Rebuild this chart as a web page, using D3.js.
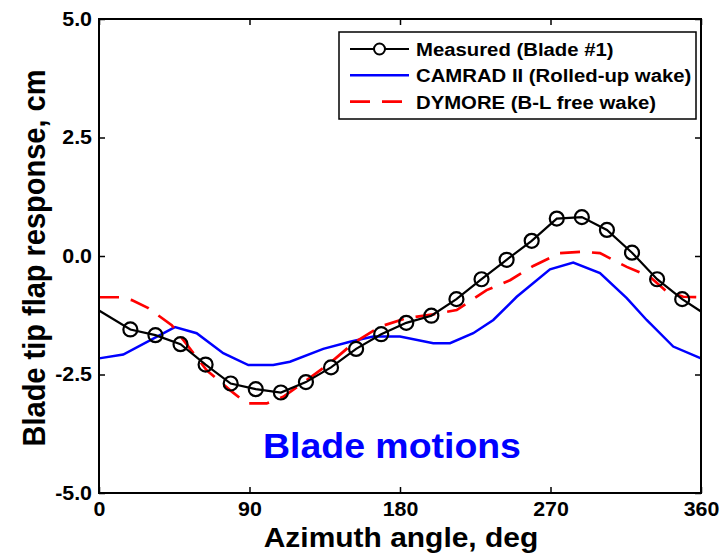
<!DOCTYPE html>
<html>
<head>
<meta charset="utf-8">
<script src="https://cdn.jsdelivr.net/npm/d3@7"></script>
<style>
  body { margin: 0; background: #fff; }
  svg { display: block; font-family: "Liberation Sans", Arial, sans-serif; font-weight: bold; }
</style>
</head>
<body>
<svg id="chart" width="720" height="555"></svg>
<script>
// measured (blade #1), circles
var measAz  = [0, 18.75, 33.75, 48.75, 63.75, 78.75, 93.75, 108.75, 123.75, 138.75, 153.75, 168.75, 183.75,
               198.75, 213.75, 228.75, 243.75, 258.75, 273.75, 288.75, 303.75, 318.75, 333.75, 348.75, 360];
var measVal = [-1.15, -1.55, -1.67, -1.86, -2.29, -2.69, -2.81, -2.88, -2.66, -2.35, -1.96, -1.65, -1.41,
               -1.26, -0.91, -0.49, -0.08, 0.32, 0.79, 0.82, 0.55, 0.07, -0.49, -0.91, -1.17];

// CAMRAD II (rolled-up wake)
var camAz  = [0, 14.5, 45.4, 58.4, 74.3, 89.3, 104.2, 114.2, 134.1, 150.1, 164, 180, 199.9, 209.9,
              223.8, 235.8, 249.8, 269.7, 283.6, 299.6, 315.6, 327.5, 343.4, 360];
var camVal = [-2.16, -2.08, -1.50, -1.63, -2.05, -2.30, -2.30, -2.23, -1.96, -1.81, -1.70, -1.70, -1.84, -1.84,
              -1.63, -1.35, -0.86, -0.28, -0.14, -0.36, -0.89, -1.35, -1.91, -2.16];

// DYMORE (B-L free wake)
var dymAz  = [0, 12.6, 19.6, 29.5, 43.5, 50.4, 64.4, 78.3, 88.3, 100.3, 110.2, 124.2, 138.1, 152.1, 168,
              184, 199.9, 213.9, 231.8, 245.8, 259.7, 275.7, 289.6, 299.6, 315.6, 329.5, 339.5, 349.4, 360];
var dymVal = [-0.87, -0.87, -0.93, -1.10, -1.46, -1.77, -2.41, -2.83, -3.11, -3.11, -2.97, -2.62, -2.26, -1.84, -1.49,
              -1.31, -1.23, -1.14, -0.72, -0.51, -0.21, 0.06, 0.09, 0.06, -0.23, -0.44, -0.75, -0.86, -0.87];

var xTicks = [0, 90, 180, 270, 360];
var yTicks = [-5.0, -2.5, 0.0, 2.5, 5.0];

var legendItems = [
  {label: "Measured (Blade #1)", color: "black", dash: null, marker: true, width: 2.2},
  {label: "CAMRAD II (Rolled-up wake)", color: "#0000ff", dash: null, marker: false, width: 2.5},
  {label: "DYMORE (B-L free wake)", color: "#ff0000", dash: "20,12", marker: false, width: 2.7}
];

var svg = d3.select("#chart");
var L = 99, R = 701, T = 19, B = 493;
var SX = 1.07; // the original lettering is a bit wider than Liberation Sans

var x = d3.scaleLinear().domain([0, 360]).range([L, R]);
var y = d3.scaleLinear().domain([-5, 5]).range([B, T]);

function zip(a, b) { return a.map(function(v, i) { return [v, b[i]]; }); }

// stretch a text horizontally about its own anchor
function widen(sel) {
  sel.each(function() {
    var t = d3.select(this);
    var tx = +t.attr("x") || 0, ty = +t.attr("y") || 0;
    t.attr("transform", "translate(" + tx + "," + ty + ") scale(" + SX + ",1) translate(" + (-tx) + "," + (-ty) + ")");
  });
}

var line = d3.line().x(function(d) { return x(d[0]); }).y(function(d) { return y(d[1]); });

// ticks, inward on all four sides
var tickLen = 6;
var fmtY = function(d) { return d3.format(".1f")(d).replace("\u2212", "-"); };

svg.append("g").attr("class", "xaxis").attr("transform", "translate(0," + B + ")")
  .call(d3.axisBottom(x).tickValues(xTicks).tickSize(-tickLen).tickPadding(9).tickFormat(d3.format("d")))
  .call(function(g) { g.select(".domain").remove(); });
svg.append("g").attr("transform", "translate(0," + T + ")")
  .call(d3.axisTop(x).tickValues(xTicks).tickSize(-tickLen).tickFormat(""))
  .call(function(g) { g.select(".domain").remove(); });
svg.append("g").attr("class", "yaxis").attr("transform", "translate(" + L + ",0)")
  .call(d3.axisLeft(y).tickValues(yTicks).tickSize(-tickLen).tickPadding(7).tickFormat(fmtY))
  .call(function(g) { g.select(".domain").remove(); });
svg.append("g").attr("transform", "translate(" + R + ",0)")
  .call(d3.axisRight(y).tickValues(yTicks).tickSize(-tickLen).tickFormat(""))
  .call(function(g) { g.select(".domain").remove(); });

svg.selectAll(".tick line").attr("stroke", "black").attr("stroke-width", 1.5);
svg.selectAll(".tick text").attr("fill", "black").style("font-size", "20px").style("font-weight", "bold")
  .style("font-family", "'Liberation Sans', Arial, sans-serif");
widen(svg.selectAll(".xaxis .tick text, .yaxis .tick text"));

// curves
svg.append("path").datum(zip(camAz, camVal)).attr("d", line)
  .attr("fill", "none").attr("stroke", "#0000ff").attr("stroke-width", 2.5);
svg.append("path").datum(zip(dymAz, dymVal)).attr("d", line)
  .attr("fill", "none").attr("stroke", "#ff0000").attr("stroke-width", 2.7).attr("stroke-dasharray", "20,12");
svg.append("path").datum(zip(measAz, measVal)).attr("d", line)
  .attr("fill", "none").attr("stroke", "black").attr("stroke-width", 2.2);
svg.selectAll("circle.meas")
  .data(zip(measAz, measVal).slice(1, -1))
  .enter().append("circle")
  .attr("class", "meas")
  .attr("cx", function(d) { return x(d[0]); })
  .attr("cy", function(d) { return y(d[1]); })
  .attr("r", 7)
  .attr("fill", "none")
  .attr("stroke", "black")
  .attr("stroke-width", 2.2);

// frame
svg.append("rect").attr("x", L).attr("y", T).attr("width", R - L).attr("height", B - T)
  .attr("fill", "none").attr("stroke", "black").attr("stroke-width", 2);

// legend
var lg = svg.append("g");
lg.append("rect").attr("x", 339).attr("y", 32).attr("width", 357).attr("height", 87)
  .attr("fill", "white").attr("stroke", "black").attr("stroke-width", 1.5);
legendItems.forEach(function(it, i) {
  var cy = 49 + i * 26.3;
  lg.append("line").attr("x1", 350).attr("x2", 409).attr("y1", cy).attr("y2", cy)
    .attr("stroke", it.color).attr("stroke-width", it.width)
    .attr("stroke-dasharray", it.dash);
  if (it.marker) {
    lg.append("circle").attr("cx", 379.5).attr("cy", cy).attr("r", 5.5)
      .attr("fill", "white").attr("stroke", "black").attr("stroke-width", 2);
  }
  lg.append("text").attr("x", 416).attr("y", cy + 7)
    .style("font-size", "19px").text(it.label)
    .call(widen);
});

// annotation
svg.append("text").attr("x", 392).attr("y", 458).attr("text-anchor", "middle")
  .attr("fill", "#0000ff").style("font-size", "35px").text("Blade motions")
  .call(widen);

// axis titles
svg.append("text").attr("x", 401).attr("y", 547).attr("text-anchor", "middle")
  .style("font-size", "28px").text("Azimuth angle, deg")
  .call(widen);
svg.append("text").attr("transform", "translate(45,258) scale(" + SX + ",1) rotate(-90)").attr("text-anchor", "middle")
  .style("font-size", "29px").text("Blade tip flap response, cm");
</script>
</body>
</html>
